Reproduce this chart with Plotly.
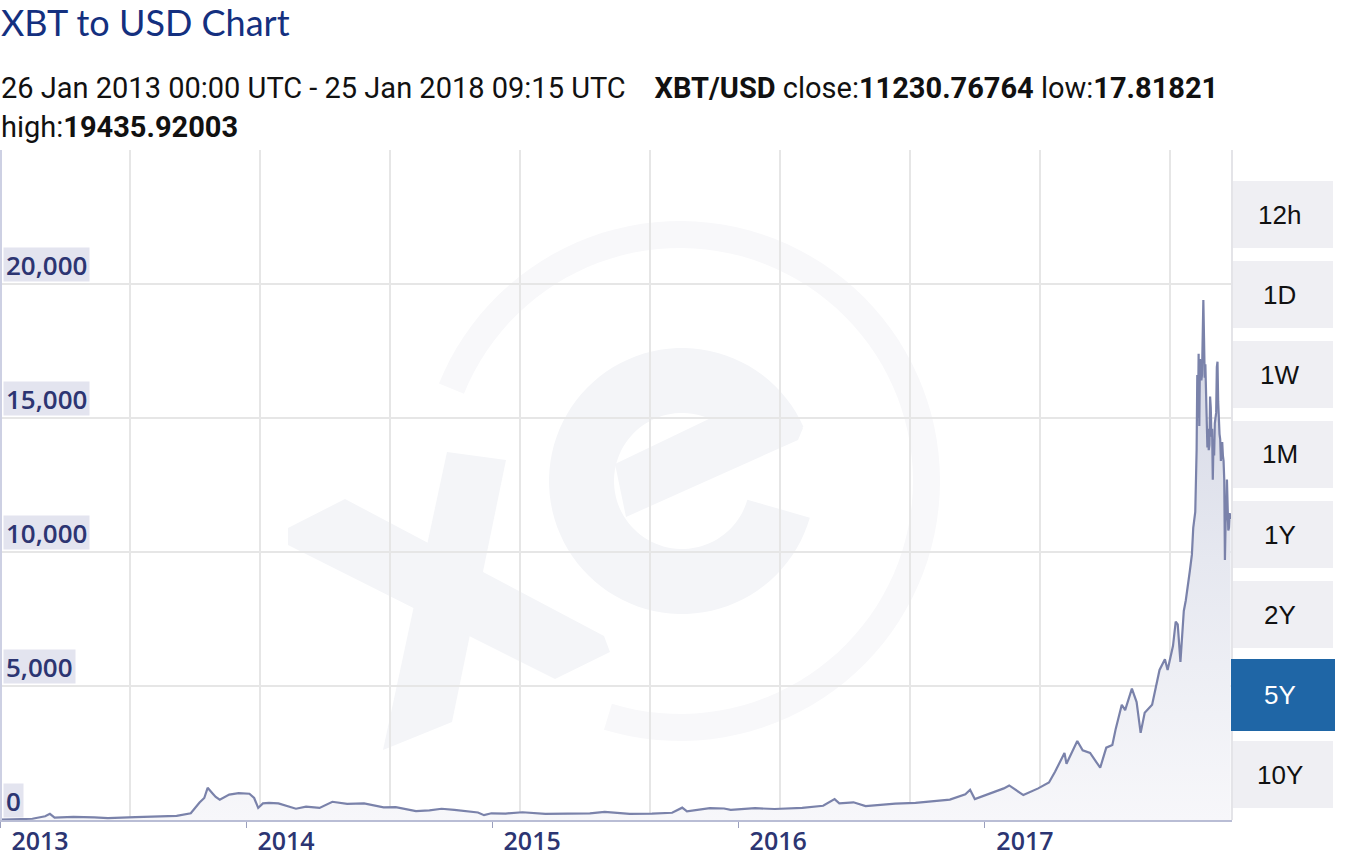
import numpy as np
import plotly.graph_objects as go

# ---------------- data ----------------
dates = [
    "2013-01-26", "2013-02-20", "2013-03-15", "2013-04-03", "2013-04-10", "2013-04-17", "2013-05-15",
    "2013-06-15", "2013-07-05", "2013-08-15", "2013-09-15", "2013-10-15", "2013-11-05",
    "2013-11-18", "2013-11-25", "2013-11-30", "2013-12-07", "2013-12-12", "2013-12-18", "2014-01-01",
    "2014-01-15", "2014-01-31", "2014-02-07", "2014-02-13", "2014-02-20", "2014-03-01", "2014-03-15",
    "2014-04-10", "2014-04-25", "2014-05-15", "2014-06-03", "2014-06-25", "2014-07-20",
    "2014-08-18", "2014-09-05", "2014-09-22", "2014-10-05", "2014-10-25", "2014-11-12",
    "2014-12-01", "2014-12-20", "2015-01-05", "2015-01-14", "2015-01-25", "2015-02-15",
    "2015-03-12", "2015-04-15", "2015-05-20", "2015-06-20", "2015-07-12", "2015-08-18",
    "2015-09-20", "2015-10-20", "2015-11-04", "2015-11-11", "2015-12-15", "2016-01-05",
    "2016-01-15", "2016-02-20", "2016-03-20", "2016-04-30", "2016-05-31", "2016-06-17",
    "2016-06-24", "2016-07-15", "2016-08-02", "2016-09-15", "2016-10-15", "2016-11-10",
    "2016-12-05", "2016-12-28", "2017-01-04", "2017-01-11", "2017-02-01", "2017-02-23",
    "2017-03-03", "2017-03-24", "2017-04-15", "2017-05-01", "2017-05-10", "2017-05-24",
    "2017-05-27", "2017-06-12", "2017-06-20", "2017-07-01", "2017-07-16", "2017-07-25",
    "2017-08-03", "2017-08-08", "2017-08-17", "2017-08-22", "2017-09-01", "2017-09-08",
    "2017-09-14", "2017-09-20", "2017-10-01", "2017-10-12", "2017-10-20", "2017-10-24",
    "2017-11-01", "2017-11-05", "2017-11-08", "2017-11-12", "2017-11-17", "2017-11-20",
    "2017-11-26", "2017-11-29", "2017-12-01", "2017-12-04", "2017-12-06", "2017-12-07",
    "2017-12-08", "2017-12-09", "2017-12-10", "2017-12-11", "2017-12-12", "2017-12-13",
    "2017-12-14", "2017-12-15", "2017-12-16", "2017-12-17", "2017-12-18", "2017-12-19",
    "2017-12-20", "2017-12-21", "2017-12-22", "2017-12-23", "2017-12-24", "2017-12-25",
    "2017-12-26", "2017-12-27", "2017-12-28", "2017-12-29", "2017-12-30", "2017-12-31",
    "2018-01-01", "2018-01-02", "2018-01-03", "2018-01-04", "2018-01-05", "2018-01-06",
    "2018-01-07", "2018-01-08", "2018-01-09", "2018-01-10", "2018-01-11", "2018-01-12",
    "2018-01-13", "2018-01-14", "2018-01-15", "2018-01-16", "2018-01-17", "2018-01-18",
    "2018-01-19", "2018-01-20", "2018-01-21", "2018-01-22", "2018-01-23", "2018-01-24",
    "2018-01-25 09:15",
]
prices = [
    17.8, 30, 47, 140, 230, 90, 120,
    100, 70, 105, 130, 155, 250,
    650, 820, 1200, 1000, 860, 760, 950,
    1000, 980, 820, 450, 620, 640, 620,
    420, 500, 450, 680, 600, 620,
    470, 480, 400, 330, 360, 420,
    380, 320, 280, 180, 250, 240,
    290, 225, 240, 245, 300, 230,
    235, 270, 460, 320, 440, 430,
    380, 440, 410, 450, 530, 780,
    620, 660, 520, 610, 640, 710,
    760, 960, 1130, 780, 970, 1180,
    1290, 930, 1180, 1400, 1800, 2500,
    2100, 2950, 2600, 2500, 1950, 2700,
    2800, 3400, 4300, 4100, 4900, 4400,
    3250, 4000, 4300, 5600, 6000, 5600,
    6500, 7400, 7300, 5900, 7800, 8200,
    9300, 9900, 10900, 11500, 13800, 16600,
    15000, 17400, 14700, 17200, 16800, 16400,
    16600, 17600, 19400, 18000, 16500, 17000,
    16000, 15500, 13900, 14600, 13800, 14000,
    15800, 15400, 14300, 14600, 12700, 14000,
    13600, 14800, 15100, 15200, 16900, 17100,
    15600, 14600, 14400, 14200, 13400, 13800,
    14100, 13600, 13400, 12700, 9700, 11100,
    11500, 12700, 11600, 10800, 10900, 11450,
    11230.76764,
]

y_tick_vals = [0, 5000, 10000, 15000, 20000]
y_tick_text = ["0", "5,000", "10,000", "15,000", "20,000"]
x_tick_vals = ["2013-01-26", "2014-01-26", "2015-01-26", "2016-01-26", "2017-01-26"]
x_tick_text = ["2013", "2014", "2015", "2016", "2017"]
periods = ["12h", "1D", "1W", "1M", "1Y", "2Y", "5Y", "10Y"]
active_period = "5Y"

title_text = "XBT to USD Chart"
info_line1 = ("26 Jan 2013 00:00 UTC - 25 Jan 2018 09:15 UTC&nbsp;&nbsp;&nbsp; <b>XBT/USD</b> close:<b>11230.76764</b>"
              " low:<b>17.81821</b>")
info_line2 = "high:<b>19435.92003</b>"

# ---------------- geometry helpers (pixel -> paper) ----------------
W, H = 1355, 851
PL, PR, PT, PB = 0, 1232, 150, 820


def px(x):
    return (x - PL) / (PR - PL)


def py(y):
    return (PB - y) / (PB - PT)


def path_from(points):
    return "M " + " L ".join(f"{px(x):.5f},{py(y):.5f}" for x, y in points) + " Z"


def arc(cx, cy, r, a0, a1, n=90):
    a = np.radians(np.linspace(a0, a1, n))
    return [(cx + r * np.cos(t), cy - r * np.sin(t)) for t in a]


fig = go.Figure()

fig.add_trace(go.Scatter(
    x=dates, y=prices, mode="lines",
    line=dict(color="#7a82aa", width=2.2),
    fill="tozeroy",
    fillgradient=dict(type="vertical",
                      colorscale=[[0, "#f7f7fa"], [0.5, "#e6e8f0"], [1, "#d2d5e3"]]),
    hoverinfo="skip", showlegend=False,
))

# gridline axis (fixed 130px spacing, independent of dates)
fig.add_trace(go.Scatter(x=[0], y=[0], xaxis="x2", mode="markers",
                         marker=dict(opacity=0), hoverinfo="skip", showlegend=False))

WM_LETTER = "#f4f5f8"
WM_RING = "#f8f8fa"
shapes = []
# watermark ring
ring_c = (680, 481)
pts = arc(*ring_c, 260, 158, -107) + arc(*ring_c, 233, -107, 158)
shapes.append(dict(type="path", path=path_from(pts), xref="paper", yref="paper",
                   fillcolor=WM_RING, line=dict(width=0), layer="below"))
# watermark "e"
ec = (682, 481)
pts = arc(*ec, 133, 24, 344) + arc(*ec, 68, 344, 24)
shapes.append(dict(type="path", path=path_from(pts), xref="paper", yref="paper",
                   fillcolor=WM_LETTER, line=dict(width=0), layer="below"))
bar = [(615, 464), (713, 417), (760, 395), (803, 428), (798, 440), (626, 517)]
shapes.append(dict(type="path", path=path_from(bar), xref="paper", yref="paper",
                   fillcolor=WM_LETTER, line=dict(width=0), layer="below"))
# watermark "x"
barA = [(447, 452), (506, 460), (452, 722), (383, 750)]
barB = [(288, 528), (345, 499), (604, 636), (610, 652), (555, 679), (288, 545)]
for b in (barA, barB):
    shapes.append(dict(type="path", path=path_from(b), xref="paper", yref="paper",
                       fillcolor=WM_LETTER, line=dict(width=0), layer="below"))

# frame lines
shapes.append(dict(type="line", x0=px(1), x1=px(1), y0=0, y1=1, xref="paper", yref="paper",
                   line=dict(color="#cdd0e3", width=2)))
shapes.append(dict(type="line", x0=1, x1=1, y0=0, y1=1, xref="paper", yref="paper",
                   line=dict(color="#e4e4e8", width=2)))

annotations = []
# period buttons
for i, p in enumerate(periods):
    top = 181 + 80 * i
    active = p == active_period
    if active:
        x0, x1, y0, y1 = 1231, 1335, 659, 731
        fc, tc = "#1f66a6", "#ffffff"
    else:
        x0, x1, y0, y1 = 1233, 1333, top, top + 67
        fc, tc = "#efeff3", "#111111"
    shapes.append(dict(type="rect", x0=px(x0), x1=px(x1), y0=py(y1), y1=py(y0),
                       xref="paper", yref="paper", fillcolor=fc, line=dict(width=0), layer="above"))
    annotations.append(dict(x=px((x0 + x1) / 2 - 3), y=py((y0 + y1) / 2), xref="paper", yref="paper",
                            text=p, showarrow=False,
                            font=dict(family="Liberation Sans, Arial", size=26, color=tc),
                            xanchor="center", yanchor="middle"))

# y tick labels with background boxes
for v, t in zip(y_tick_vals, y_tick_text):
    annotations.append(dict(x=px(3), y=v, xref="paper", yref="y", text=t, showarrow=False,
                            xanchor="left", yanchor="bottom", yshift=2, height=29,
                            font=dict(family="Open Sans", size=26, color="#2c3572", weight=600),
                            bgcolor="#e3e4ef", borderpad=2))

# title + info
annotations.append(dict(x=px(-1), y=py(22), xref="paper", yref="paper", text=title_text,
                        showarrow=False, xanchor="left", yanchor="middle",
                        font=dict(family="Lato", size=36, color="#14307f")))
annotations.append(dict(x=px(-1), y=py(88), xref="paper", yref="paper", text=info_line1,
                        showarrow=False, xanchor="left", yanchor="middle",
                        font=dict(family="Roboto", size=29, color="#111111")))
annotations.append(dict(x=px(-1), y=py(127), xref="paper", yref="paper", text=info_line2,
                        showarrow=False, xanchor="left", yanchor="middle",
                        font=dict(family="Roboto", size=29, color="#111111")))

fig.update_layout(
    width=W, height=H,
    margin=dict(l=PL, r=W - PR, t=PT, b=H - PB, pad=0),
    paper_bgcolor="white", plot_bgcolor="white",
    showlegend=False,
    xaxis=dict(type="date", range=["2013-01-26", "2018-01-27 12:00"], showgrid=False,
               tickvals=x_tick_vals, ticktext=x_tick_text, ticks="outside", ticklen=6,
               tickcolor="#9a9fbd", tickwidth=1, showline=True, linecolor="#b9bdd5", linewidth=2,
               tickfont=dict(family="Open Sans", size=25, color="#2c3572", weight=600),
               ticklabelshift=40, ticklabelstandoff=-8, zeroline=False, automargin=False,
               fixedrange=True),
    xaxis2=dict(overlaying="x", range=[0, (PR - PL) / 130], tick0=0, dtick=1, showgrid=True,
                gridcolor="#e6e6e6", gridwidth=2, showticklabels=False, ticks="", zeroline=False,
                showline=False, side="bottom", automargin=False, fixedrange=True),
    yaxis=dict(range=[0, 25000], dtick=5000, tick0=0, showgrid=True, gridcolor="#e6e6e6", gridwidth=2,
               showticklabels=False, zeroline=False, automargin=False, fixedrange=True),
    shapes=shapes,
    annotations=annotations,
)

fig.write_html("out.html")
